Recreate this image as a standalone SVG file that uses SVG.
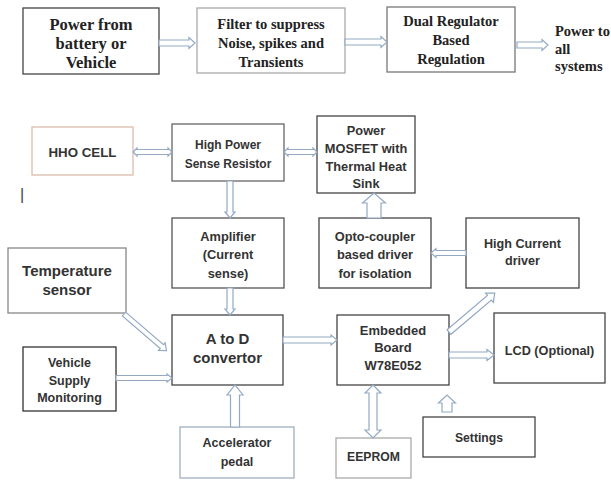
<svg xmlns="http://www.w3.org/2000/svg" width="611" height="483" viewBox="0 0 611 483">
<style>
.bx{fill:#fff;stroke-width:1.3}
.ser{font-family:"Liberation Serif","Times New Roman",serif;font-weight:bold;fill:#222;text-anchor:middle}
.st{text-anchor:start}
.san{font-family:"Liberation Sans",Arial,sans-serif;font-weight:bold;fill:#333;text-anchor:middle}
.ar{fill:#fff;stroke:#93a9c4;stroke-width:1.2;stroke-linejoin:miter}
</style>
<rect width="611" height="483" fill="#fff"/>
<g id="n-power-src"><rect class="bx" x="23" y="8" width="136" height="66" stroke="#444"/>
<text class="ser" font-size="16.5" x="91" y="30">Power from</text><text class="ser" font-size="16.5" x="91" y="49">battery or</text><text class="ser" font-size="16.5" x="91" y="68">Vehicle</text></g>
<g id="n-filter"><rect class="bx" x="197" y="8" width="148" height="65" stroke="#aaa"/>
<text class="ser" font-size="14.5" x="271" y="29">Filter to suppress</text><text class="ser" font-size="14.5" x="271" y="48">Noise, spikes and</text><text class="ser" font-size="14.5" x="271" y="67">Transients</text></g>
<g id="n-dualreg"><rect class="bx" x="387" y="7" width="128" height="65" stroke="#777"/>
<text class="ser" font-size="14.5" x="451" y="26">Dual Regulator</text><text class="ser" font-size="14.5" x="451" y="45">Based</text><text class="ser" font-size="14.5" x="451" y="64">Regulation</text></g>
<g id="n-power-out"><text class="ser st" font-size="14.5" x="555" y="36">Power to</text><text class="ser st" font-size="14.5" x="555" y="54">all</text><text class="ser st" font-size="14.5" x="555" y="71">systems</text></g>

<g id="n-hho"><rect class="bx" x="32" y="127" width="101" height="48" stroke="#dcbcae"/>
<text class="san" font-size="13.3" x="82.5" y="157">HHO CELL</text></g>
<g id="n-hsr"><rect class="bx" x="172" y="124" width="112" height="57" stroke="#666"/>
<text class="san" font-size="12" x="228" y="148.5">High Power</text><text class="san" font-size="12" x="228" y="167.5">Sense Resistor</text></g>
<g id="n-mosfet"><rect class="bx" x="317" y="116" width="98" height="77" stroke="#444"/>
<text class="san" font-size="12.8" x="366" y="134.5">Power</text><text class="san" font-size="12.8" x="366" y="152.5">MOSFET with</text><text class="san" font-size="12.8" x="366" y="170.5">Thermal Heat</text><text class="san" font-size="12.8" x="366" y="187.5">Sink</text></g>
<text x="20" y="200" font-family="Liberation Sans,Arial,sans-serif" font-size="16" fill="#444">|</text>
<g id="n-amp"><rect class="bx" x="172" y="218" width="112" height="70" stroke="#555"/>
<text class="san" font-size="12.8" x="228" y="240.5">Amplifier</text><text class="san" font-size="12.8" x="228" y="258.5">(Current</text><text class="san" font-size="12.8" x="228" y="277.5">sense)</text></g>
<g id="n-opto"><rect class="bx" x="319" y="218" width="112" height="70" stroke="#444"/>
<text class="san" font-size="12.8" x="375" y="240.5">Opto-coupler</text><text class="san" font-size="12.8" x="375" y="258.5">based driver</text><text class="san" font-size="12.8" x="375" y="277.5">for isolation</text></g>
<g id="n-hcd"><rect class="bx" x="466" y="218" width="113" height="70" stroke="#444"/>
<text class="san" font-size="12.6" x="522.5" y="247.5">High Current</text><text class="san" font-size="12.6" x="522.5" y="264.5">driver</text></g>
<g id="n-temp"><rect class="bx" x="8" y="248" width="118" height="65" stroke="#888"/>
<text class="san" font-size="15" x="67" y="276">Temperature</text><text class="san" font-size="15" x="67" y="295">sensor</text></g>
<g id="n-atod"><rect class="bx" x="172" y="315" width="111" height="70" stroke="#444"/>
<text class="san" font-size="15" x="227.5" y="344">A to D</text><text class="san" font-size="15" x="227.5" y="363">convertor</text></g>
<g id="n-vsm"><rect class="bx" x="23" y="347" width="93" height="64" stroke="#333"/>
<text class="san" font-size="12.5" x="69.5" y="366.5">Vehicle</text><text class="san" font-size="12.5" x="69.5" y="384.5">Supply</text><text class="san" font-size="12.5" x="69.5" y="401.5">Monitoring</text></g>
<g id="n-acc"><rect class="bx" x="180" y="427" width="114" height="51" stroke="#9fb0c2"/>
<text class="san" font-size="12.5" x="237" y="446.5">Accelerator</text><text class="san" font-size="12.5" x="237" y="465.5">pedal</text></g>
<g id="n-eb"><rect class="bx" x="337" y="315" width="112" height="70" stroke="#444"/>
<text class="san" font-size="13" x="393" y="334.5">Embedded</text><text class="san" font-size="13" x="393" y="351.5">Board</text><text class="san" font-size="13" x="393" y="369.5">W78E052</text></g>
<g id="n-lcd"><rect class="bx" x="494" y="313" width="111" height="70" stroke="#444"/>
<text class="san" font-size="12.7" x="549.5" y="354.5">LCD (Optional)</text></g>
<g id="n-eeprom"><rect class="bx" x="336" y="438" width="75" height="40" stroke="#aaa"/>
<text class="san" font-size="12.2" x="373.5" y="460.5">EEPROM</text></g>
<g id="n-settings"><rect class="bx" x="423" y="417" width="112" height="40" stroke="#444"/>
<text class="san" font-size="12.2" x="479" y="441.5">Settings</text></g>

<g id="connectors">
<polygon class="ar" points="159,40 189,40 189,37.5 195,43 189,48.5 189,46 159,46"/>
<polygon class="ar" points="345,39 381,39 381,36.5 387,42 381,47.5 381,45 345,45"/>
<polygon class="ar" points="517,42 542,42 542,39.5 548,45 542,50.5 542,48 517,48"/>
<polygon class="ar" points="133,152 137,148 137,149.5 168,149.5 168,148 172,152 168,156 168,154.5 137,154.5 137,156"/>
<polygon class="ar" points="284,152 288,148 288,149.5 313,149.5 313,148 317,152 313,156 313,154.5 288,154.5 288,156"/>
<polygon class="ar" points="227,181 227,212 225,212 230,218 235,212 233,212 233,181"/>
<polygon class="ar" points="367,218 367,203 362.5,203 374,193 385.5,203 381,203 381,218"/>
<polygon class="ar" points="466,250.5 436,250.5 436,248.5 431,253 436,257.5 436,255.5 466,255.5"/>
<polygon class="ar" points="227,288 227,309 225,309 230,315 235,309 233,309 233,288"/>
<polygon class="ar" transform="translate(124,314) rotate(40.7)" points="0,-2.5 50,-2.5 50,-5 56,0 50,5 50,2.5 0,2.5"/>
<polygon class="ar" points="116,375.5 167,375.5 167,374 172,378 167,382 167,380.5 116,380.5"/>
<polygon class="ar" points="283,337 331,337 331,335 337,340 331,345 331,343 283,343"/>
<polygon class="ar" points="230.5,427 230.5,395 227,395 235,385 243,395 239.5,395 239.5,427"/>
<polygon class="ar" transform="translate(449,332) rotate(-40.3)" points="0,-3 53,-3 53,-6 60,0 53,6 53,3 0,3"/>
<polygon class="ar" points="449,352 487,352 487,349.5 494,355 487,360.5 487,358 449,358"/>
<polygon class="ar" points="373,385 381,393 377,393 377,430 381,430 373,438 365,430 369,430 369,393 365,393"/>
<polygon class="ar" points="442,412 442,403 438.5,403 447,395 455.5,403 452,403 452,412"/>
</g>
</svg>
